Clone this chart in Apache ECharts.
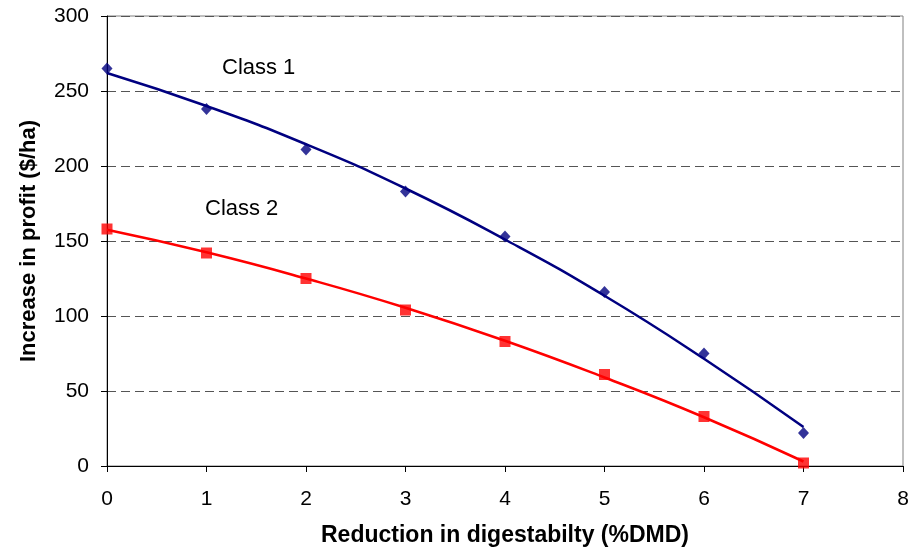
<!DOCTYPE html>
<html>
<head>
<meta charset="utf-8">
<script src="https://cdn.jsdelivr.net/npm/echarts@6/dist/echarts.min.js"></script>
<style>
html,body{margin:0;padding:0;background:#fff;}
#chart{width:920px;height:552px;}
</style>
</head>
<body>
<div id="chart"></div>
<script>
// x categories (reduction in digestibility, %DMD)
var xValues = [0, 1, 2, 3, 4, 5, 6, 7];
// observed points
var class1Points = [265, 238, 211, 183, 153, 116, 75, 22];
var class2Points = [158, 142, 125, 104, 83, 61, 33, 2];
// trend lines
var class1Trend = [262, 240, 214.5, 185, 151, 113.5, 71.5, 26];
var class2Trend = [157.5, 142.5, 125, 105.5, 83.5, 59, 32.5, 3];
var yTicks = [0, 50, 100, 150, 200, 250, 300];
var seriesNames = ['Class 1', 'Class 2'];

function pairs(xs, ys){ return xs.map(function(x,i){ return [x, ys[i]]; }); }

var FONT = 'Liberation Sans, Arial, sans-serif';
var chart = echarts.init(document.getElementById('chart'), null, {renderer:'canvas'});
chart.setOption({
  animation:false,
  backgroundColor:'#ffffff',
  grid:{left:107, right:17, top:16, bottom:86, show:true, borderColor:'#808080', borderWidth:1},
  xAxis:{
    type:'value', min:0, max:8, interval:1,
    name:'Reduction in digestabilty (%DMD)', nameLocation:'middle', nameGap:58,
    nameTextStyle:{fontFamily:FONT, fontWeight:'bold', fontSize:23, color:'#000'},
    axisLine:{show:true, onZero:false, lineStyle:{color:'#000', width:1}},
    axisTick:{show:true, inside:false, length:6, lineStyle:{color:'#000'}},
    axisLabel:{fontFamily:FONT, fontSize:21, color:'#000', margin:23},
    splitLine:{show:false}
  },
  yAxis:{
    type:'value', min:0, max:300, interval:50,
    name:'Increase in profit ($/ha)', nameLocation:'middle', nameGap:67,
    nameTextStyle:{fontFamily:FONT, fontWeight:'bold', fontSize:22, color:'#000'},
    axisLine:{show:true, onZero:false, lineStyle:{color:'#000', width:1}},
    axisTick:{show:true, inside:false, length:6, lineStyle:{color:'#000'}},
    axisLabel:{fontFamily:FONT, fontSize:21, color:'#000', margin:18},
    splitLine:{show:true, lineStyle:{color:'#555', type:[9,5], width:1}}
  },
  series:[
    {name:seriesNames[0]+' trend', type:'line', data:pairs(xValues, class1Trend), smooth:0.5, showSymbol:false,
     lineStyle:{color:'#000080', width:2.5}, z:2},
    {name:seriesNames[1]+' trend', type:'line', data:pairs(xValues, class2Trend), smooth:0.5, showSymbol:false,
     lineStyle:{color:'#ff0000', width:2.5}, z:2},
    {name:seriesNames[0], type:'scatter', data:pairs(xValues, class1Points), symbol:'diamond', symbolSize:[11,12],
     itemStyle:{color:'#000080'}, z:3},
    {name:seriesNames[1], type:'scatter', data:pairs(xValues, class2Points), symbol:'rect', symbolSize:11,
     itemStyle:{color:'#ff0000'}, z:3}
  ],
  graphic:[
    {type:'text', left:222, top:57, style:{text:seriesNames[0], font:'22px '+FONT, fill:'#000'}},
    {type:'text', left:205, top:198, style:{text:seriesNames[1], font:'22px '+FONT, fill:'#000'}}
  ]
});
</script>
</body>
</html>
